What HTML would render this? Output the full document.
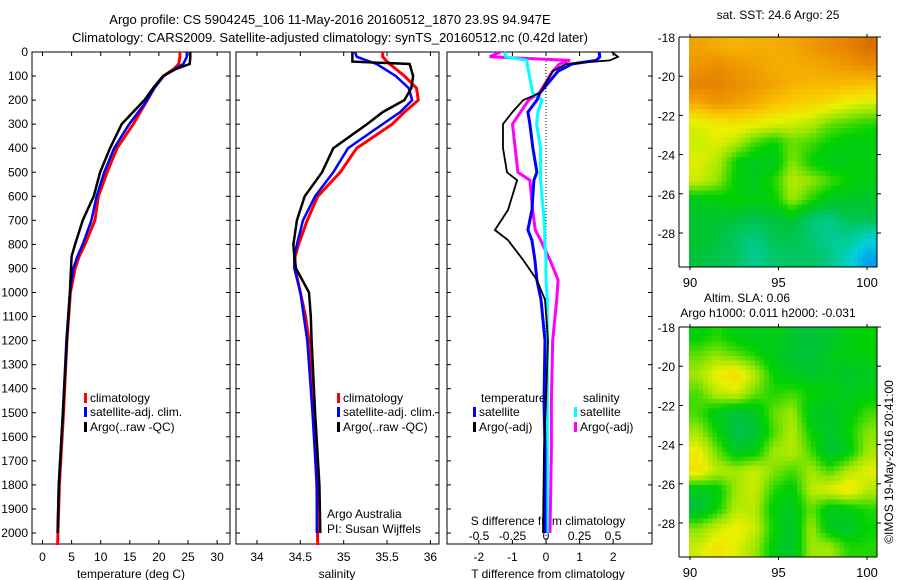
<!DOCTYPE html>
<html><head><meta charset="utf-8">
<style>
html,body{margin:0;padding:0;background:#fff;}
svg{display:block;font-family:"Liberation Sans",sans-serif;font-size:12px;}
</style></head>
<body>
<svg id="chart" width="900" height="580" viewBox="0 0 900 580" xmlns="http://www.w3.org/2000/svg">
<text x="330" y="24" text-anchor="middle" font-size="13">Argo profile: CS 5904245_106 11-May-2016 20160512_1870 23.9S 94.947E</text>
<text x="330" y="42" text-anchor="middle" font-size="13">Climatology: CARS2009. Satellite-adjusted climatology: synTS_20160512.nc (0.42d later)</text>
<g id="g"></g>
</svg>
<script>
// ---- profile data ----
const tDepth=[0,20,50,70,100,150,200,300,400,500,600,700,800,850,900,1000,1200,1500,1800,2000];
const tClim=[23.6,23.6,23.4,22.6,20.8,19.2,18.0,15.6,12.8,11.1,9.6,9.0,7.3,6.3,5.6,4.8,4.2,3.6,2.9,2.6];
const tSat=[24.8,24.8,24.2,22.8,20.8,19.2,18.0,14.9,12.3,10.6,9.3,8.4,6.9,6.0,5.3,4.7,4.1,3.5,2.8,2.6];
const tArgo=[25.4,25.4,25.3,23.0,20.7,19.0,17.5,13.6,11.6,9.9,8.8,6.9,5.6,5.0,4.9,4.7,4.2,3.5,2.8,2.6];
const sDepth=[0,20,40,50,100,150,200,250,300,400,500,600,700,800,850,900,1000,1100,1200,1500,1800,2000];
const sClim=[35.45,35.45,35.5,35.53,35.7,35.84,35.86,35.7,35.56,35.15,34.96,34.70,34.58,34.48,34.44,34.44,34.50,34.56,34.60,34.65,34.69,34.70];
const sSat=[35.13,35.15,35.3,35.38,35.6,35.75,35.79,35.65,35.45,35.05,34.88,34.67,34.53,34.46,34.43,34.43,34.50,34.54,34.58,34.64,34.69,34.69];
const sArgo=[35.10,35.10,35.1,35.76,35.8,35.78,35.70,35.45,35.27,34.88,34.75,34.55,34.46,34.42,34.43,34.45,34.60,34.62,34.63,34.67,34.72,34.73];
const dDepth=[0,20,35,50,80,170,200,250,300,400,500,533,657,740,782,865,948,1030,1200,1450,1650,2000];
const dTsat=[1.58,1.6,1.5,0.77,0.36,-0.18,-0.27,-0.54,-0.48,-0.39,-0.27,-0.36,-0.42,-0.54,-0.42,-0.33,-0.27,-0.15,-0.03,-0.06,-0.03,-0.03];
const dTargo=[1.96,2.14,1.9,0.6,0.2,-0.18,-0.68,-1.0,-1.28,-1.28,-1.16,-0.86,-1.13,-1.52,-1.13,-0.68,-0.27,-0.03,0.06,0.0,-0.06,-0.09];
const dSsat=[-0.31,-0.3,-0.14,-0.14,-0.13,-0.10,-0.03,-0.06,-0.07,-0.04,-0.04,-0.04,-0.02,-0.01,-0.01,0.0,0.0,0.01,0.01,0.01,0.01,0.01];
const dSargo=[-0.34,-0.42,0.18,0.10,0.05,-0.05,-0.13,-0.19,-0.25,-0.23,-0.21,-0.12,-0.10,-0.08,-0.04,0.03,0.09,0.08,0.05,0.04,0.04,0.03];
const depthTicks=[0,100,200,300,400,500,600,700,800,900,1000,1100,1200,1300,1400,1500,1600,1700,1800,1900,2000];
const tTicks=[0,5,10,15,20,25,30];
const sTicks=[34,34.5,35,35.5,36];
const dtTicks=[-2,-1,0,1,2];
const dsTicks=[-0.5,-0.25,0,0.25,0.5];
const dsTickLabels=["-0.5","-0.25","0","0.25","0.5"];
// ---- map data (10 lon cols x 12 lat rows, normalized colour value) ----
const mapLonTicks=[90,95,100];
const mapLatTicks=[-18,-20,-22,-24,-26,-28];
const sstGrid=[
[.78,.76,.75,.76,.76,.77,.80,.82,.84,.88],
[.80,.82,.80,.78,.76,.76,.77,.78,.80,.82],
[.84,.84,.82,.80,.78,.75,.74,.74,.73,.72],
[.76,.80,.78,.76,.72,.70,.68,.66,.62,.60],
[.62,.64,.66,.64,.62,.60,.58,.52,.50,.48],
[.60,.62,.58,.50,.46,.52,.50,.46,.44,.44],
[.62,.58,.46,.42,.42,.54,.46,.42,.44,.44],
[.60,.55,.45,.42,.48,.58,.55,.50,.46,.44],
[.42,.44,.46,.44,.45,.56,.48,.42,.40,.40],
[.40,.40,.38,.36,.38,.40,.32,.30,.36,.36],
[.40,.38,.34,.30,.36,.36,.32,.28,.28,.22],
[.38,.36,.34,.28,.32,.34,.34,.30,.22,.12]];
const slaGrid=[
[.45,.48,.44,.42,.44,.40,.38,.40,.44,.46],
[.52,.55,.52,.48,.42,.40,.38,.42,.44,.45],
[.56,.64,.68,.58,.46,.42,.40,.42,.40,.42],
[.50,.58,.60,.52,.48,.50,.46,.44,.42,.44],
[.50,.42,.38,.40,.52,.56,.42,.40,.44,.50],
[.56,.46,.36,.38,.50,.58,.46,.40,.46,.54],
[.64,.52,.42,.44,.56,.58,.50,.38,.44,.56],
[.66,.58,.56,.60,.54,.50,.56,.50,.58,.62],
[.42,.44,.56,.60,.48,.44,.58,.62,.66,.58],
[.38,.46,.58,.58,.44,.42,.52,.42,.44,.48],
[.54,.60,.64,.60,.46,.40,.56,.42,.40,.46],
[.60,.66,.62,.56,.44,.40,.56,.56,.48,.48]];

const NS='http://www.w3.org/2000/svg';
const G=document.getElementById('g');
function mk(tag,attrs,parent){const e=document.createElementNS(NS,tag);for(const k in attrs)e.setAttribute(k,attrs[k]);(parent||G).appendChild(e);return e;}
const TOP=52,BOT=544;
const yD=d=>TOP+d*0.2405;
const xT=v=>42.5+v*5.82;
const xS=v=>257+(v-34)*86.7;
const xDT=v=>546+v*33.6;
const xDS=v=>546+v*134;

function line(xs,ds,fx,color,w,name){
  const pts=xs.map((v,i)=>fx(v).toFixed(1)+','+yD(ds[i]).toFixed(1)).join(' ');
  const p=mk('polyline',{points:pts,fill:'none',stroke:color,'stroke-width':w,'stroke-linejoin':'miter'});
  
  
}
function txt(x,y,s,anchor,name,extra){
  const t=mk('text',Object.assign({x:x,y:y,'text-anchor':anchor||'start'},extra||{}));
  t.textContent=s;
  
  
  return t;
}
function frame(x0,x1,name,leftLabels){
  const r=mk('rect',{x:x0,y:TOP,width:x1-x0,height:BOT-TOP,fill:'none',stroke:'#000','stroke-width':1});
  
  
  depthTicks.forEach(d=>{
    mk('line',{x1:x0,x2:x0+4,y1:yD(d),y2:yD(d),stroke:'#000'});
    mk('line',{x1:x1,x2:x1-4,y1:yD(d),y2:yD(d),stroke:'#000'});
    if(leftLabels) txt(x0-4,yD(d)+4,String(d),'end','depth-tick-label');
  });
}
// panel 1
frame(32,230,'temperature-panel',true);
tTicks.forEach(v=>{mk('line',{x1:xT(v),x2:xT(v),y1:BOT,y2:BOT-4,stroke:'#000'});mk('line',{x1:xT(v),x2:xT(v),y1:TOP,y2:TOP+4,stroke:'#000'});txt(xT(v),561,String(v),'middle','temperature-tick-label');});
txt(131,578,'temperature (deg C)','middle','temperature-axis-title');
line(tClim,tDepth.map((d,i)=>i==tDepth.length-1?2050:d),xT,'#f00',3,'temp-climatology-line');
line(tSat,tDepth,xT,'#00f',2.5,'temp-satellite-line');
line(tArgo,tDepth,xT,'#000',2.5,'temp-argo-line');
// panel 2
frame(236,439,'salinity-panel',false);
sTicks.forEach(v=>{mk('line',{x1:xS(v),x2:xS(v),y1:BOT,y2:BOT-4,stroke:'#000'});mk('line',{x1:xS(v),x2:xS(v),y1:TOP,y2:TOP+4,stroke:'#000'});txt(xS(v),561,String(v),'middle','salinity-tick-label');});
txt(337,578,'salinity','middle','salinity-axis-title');
line(sClim,sDepth.map((d,i)=>i==sDepth.length-1?2050:d),xS,'#f00',3,'sal-climatology-line');
line(sSat,sDepth,xS,'#00f',2.5,'sal-satellite-line');
line(sArgo,sDepth,xS,'#000',2.5,'sal-argo-line');
// panel 3
frame(447,652,'difference-panel',false);
mk('line',{x1:546,x2:546,y1:TOP,y2:BOT,stroke:'#000','stroke-dasharray':'1,2'});
dtTicks.forEach(v=>{mk('line',{x1:xDT(v),x2:xDT(v),y1:BOT,y2:BOT-4,stroke:'#000'});mk('line',{x1:xDT(v),x2:xDT(v),y1:TOP,y2:TOP+4,stroke:'#000'});txt(xDT(v),561,String(v),'middle','t-diff-tick-label');});
dsTicks.forEach((v,i)=>txt(xDS(v),540,dsTickLabels[i],'middle','s-diff-tick-label'));
txt(548,525,'S difference from climatology','middle','s-diff-axis-title');
txt(548,578,'T difference from climatology','middle','t-diff-axis-title');
line(dSargo,dDepth,xDS,'#f0f',3,'s-diff-argo-line');
line(dSsat,dDepth,xDS,'#0ff',3,'s-diff-satellite-line');
line(dTsat,dDepth,xDT,'#00f',3,'t-diff-satellite-line');
line(dTargo,dDepth,xDT,'#000',1.8,'t-diff-argo-line');
// legends
function leg(x,y,color,label,name){
  mk('rect',{x:x,y:y-9,width:3,height:10,fill:color});
  txt(x+6,y,label,'start',name);
}
leg(84,402,'#f00','climatology','legend-climatology');
leg(84,416,'#00f','satellite-adj. clim.','legend-satellite');
leg(84,431,'#000','Argo(..raw -QC)','legend-argo');
leg(337,402,'#f00','climatology','legend-climatology-2');
leg(337,416,'#00f','satellite-adj. clim.','legend-satellite-2');
leg(337,431,'#000','Argo(..raw -QC)','legend-argo-2');
txt(481,402,'temperature','start','legend-temperature-header');
txt(583,402,'salinity','start','legend-salinity-header');
leg(473,416,'#00f','satellite','legend-t-satellite');
leg(473,431,'#000','Argo(-adj)','legend-t-argo');
leg(574,416,'#0ff','satellite','legend-s-satellite');
leg(574,431,'#f0f','Argo(-adj)','legend-s-argo');
txt(327,518,'Argo Australia','start','credit-line-1');
txt(327,533,'PI: Susan Wijffels','start','credit-line-2');

// ---- maps ----
const stops=[[0,[0,90,255]],[0.2,[0,210,220]],[0.38,[0,195,60]],[0.46,[0,210,0]],[0.55,[150,230,0]],[0.63,[235,240,0]],[0.72,[250,195,0]],[0.82,[235,140,0]],[0.9,[215,100,0]],[1,[170,20,0]]];
function cmap(v){
  for(let i=1;i<stops.length;i++){if(v<=stops[i][0]){const a=stops[i-1],b=stops[i];const t=(v-a[0])/(b[0]-a[0]);const c=a[1].map((x,k)=>Math.round(x+(b[1][k]-x)*t));return 'rgb('+c.join(',')+')';}}
  return 'rgb(170,20,0)';
}
function sample(grid,fr,fc){
  const nr=grid.length,nc=grid[0].length;
  const r=Math.max(0,Math.min(nr-1,fr)),c=Math.max(0,Math.min(nc-1,fc));
  const r0=Math.floor(r),c0=Math.floor(c),r1=Math.min(nr-1,r0+1),c1=Math.min(nc-1,c0+1);
  const tr=r-r0,tc=c-c0;
  return (grid[r0][c0]*(1-tc)+grid[r0][c1]*tc)*(1-tr)+(grid[r1][c0]*(1-tc)+grid[r1][c1]*tc)*tr;
}
function map(grid,top,name){
  const x0=689,x1=877,bot=top+230,lonX=l=>690+(l-90)*17.7,latY=l=>top+(-18-l)*19.6;
  const g=mk('g',{'shape-rendering':'crispEdges'});
  
  
  const nr=grid.length,nc=grid[0].length,UP=4;
  const cw=(x1-x0)/(nc*UP),ch=(bot-top)/(nr*UP);
  for(let r=0;r<nr*UP;r++)for(let c=0;c<nc*UP;c++){
    const v=sample(grid,(r+0.5)/UP-0.5,(c+0.5)/UP-0.5);
    const cell=mk('rect',{x:(x0+c*cw).toFixed(2),y:(top+r*ch).toFixed(2),width:(cw+0.6).toFixed(2),height:(ch+0.6).toFixed(2),fill:cmap(v)},g);
    
    
  }
  mk('line',{x1:679,x2:679,y1:top,y2:bot,stroke:'#000'});
  mk('line',{x1:877,x2:877,y1:top,y2:bot,stroke:'#000'});
  mk('line',{x1:679,x2:877,y1:top,y2:top,stroke:'#000'});
  mk('line',{x1:679,x2:877,y1:bot,y2:bot,stroke:'#000'});
  mapLatTicks.forEach(l=>{mk('line',{x1:679,x2:683,y1:latY(l),y2:latY(l),stroke:'#000'});mk('line',{x1:877,x2:881,y1:latY(l),y2:latY(l),stroke:'#000'});txt(675,latY(l)+5,String(l),'end','map-lat-label');});
  mapLonTicks.forEach(l=>{mk('line',{x1:lonX(l),x2:lonX(l),y1:bot,y2:bot+3,stroke:'#000'});mk('line',{x1:lonX(l),x2:lonX(l),y1:top,y2:top-3,stroke:'#000'});txt(lonX(l),bot+20,String(l),'middle','map-lon-label',{'font-size':13});});
}
map(sstGrid,37,'sst-map');
map(slaGrid,327,'sla-map');
txt(778,19,'sat. SST: 24.6 Argo: 25','middle','sst-map-title');
txt(747,302,'Altim. SLA: 0.06','middle','sla-map-title');
txt(768,317,'Argo h1000: 0.011 h2000: -0.031','middle','sla-map-subtitle');
txt(0,0,'\u00a9IMOS 19-May-2016 20:41:00','middle','imos-timestamp',{transform:'translate(893,462) rotate(-90)'});
</script>
</body></html>
